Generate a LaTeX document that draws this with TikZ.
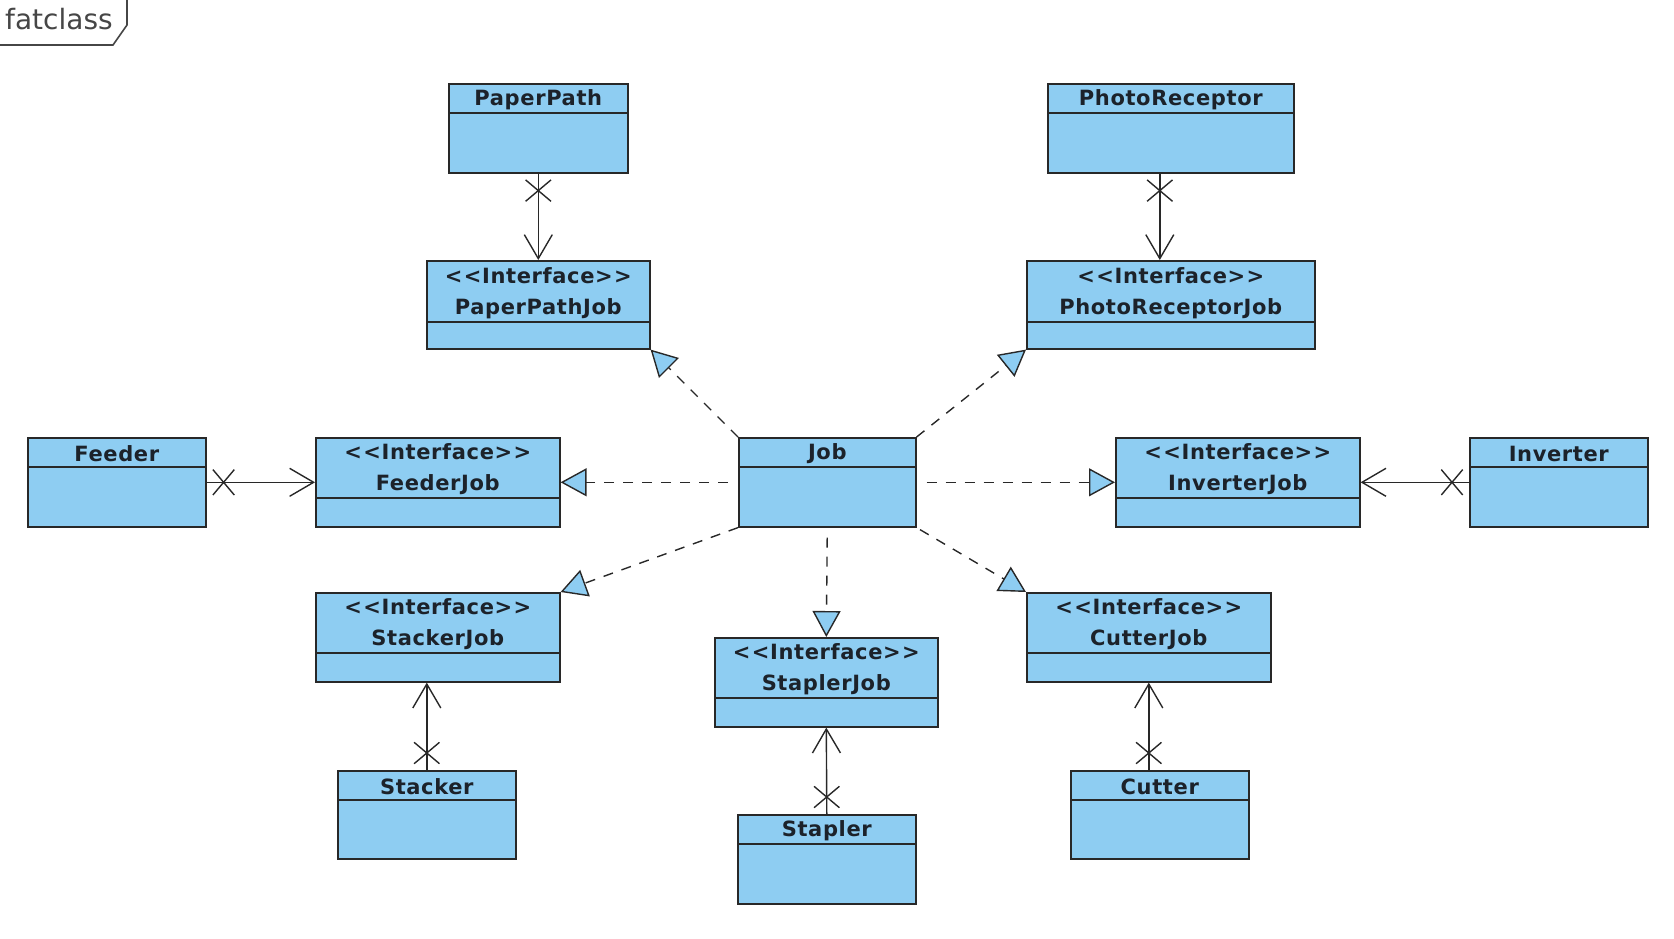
\documentclass[tikz,border=0pt]{standalone}
\usepackage{fontspec}
\setmainfont{DejaVu Sans}
\newfontfamily\lblfont{DejaVu Sans}[LetterSpace=3]
\usetikzlibrary{arrows.meta,calc,shapes.misc}
\definecolor{clsfill}{RGB}{142,205,242}
\definecolor{clsline}{RGB}{40,40,40}
\definecolor{txt}{RGB}{28,34,42}
\definecolor{frm}{RGB}{70,70,70}
\newcommand\umlbox[7]{%
  \node[box, minimum width={#4-#2}, minimum height={#5-#3}, anchor=north west] (#1) at (#2,#3) {};
  \draw[divider] ($(#1.north west)+(0,#6)$) -- ($(#1.north east)+(0,#6)$);
  \node[lbl] (#1-t) at ($(#1.north)+(0,#6/2+2)$) {#7};
}
\newcommand\iface{<\kern1.5pt<Interface>\kern1.5pt>}
\begin{document}
\begin{tikzpicture}[x=1pt,y=-1pt,
  box/.style={draw=clsline, fill=clsfill, line width=1.6pt, inner sep=0pt, rectangle},
  divider/.style={draw=clsline, line width=1.6pt},
  lbl/.style={font=\lblfont\fontsize{21}{31}\selectfont\bfseries, text=txt, align=center, inner sep=0pt},
  assoc/.style={draw=clsline, line width=1.4pt, -{Straight Barb[length=24pt,width=28pt,line width=1.4pt]}},
  real/.style={draw=clsline, line width=1.4pt, dash pattern=on 10pt off 9pt, -{Triangle[length=26pt,width=28pt,fill=clsfill,line width=1.4pt]}},
  xv/.style={cross out, draw=clsline, line width=1.4pt, minimum width=24pt, minimum height=20pt, inner sep=0pt},
  xh/.style={cross out, draw=clsline, line width=1.4pt, minimum width=20pt, minimum height=24pt, inner sep=0pt},
]
\useasboundingbox (0,0) rectangle (1674,938);

% frame tab
\draw[frm, line width=1.6pt] (-2,45) -- (113,45) -- (127,25) -- (127,-2);
\node[font=\fontsize{28}{32}\selectfont, text=frm, anchor=base west, inner sep=0pt] (title) at (5,29) {fatclass};

% classes
\umlbox{pp}{448}{83}{627}{172}{30}{PaperPath}
\umlbox{ppj}{426}{260}{649}{348}{62}{\iface\\PaperPathJob}
\umlbox{pr}{1047}{83}{1293}{172}{30}{PhotoReceptor}
\umlbox{prj}{1026}{260}{1314}{348}{62}{\iface\\PhotoReceptorJob}
\umlbox{feeder}{27}{437}{205}{526}{30}{Feeder}
\umlbox{fj}{315}{437}{559}{526}{61}{\iface\\FeederJob}
\umlbox{job}{738}{437}{915}{526}{30}{Job}
\umlbox{ij}{1115}{437}{1359}{526}{61}{\iface\\InverterJob}
\umlbox{inv}{1469}{437}{1647}{526}{30}{Inverter}
\umlbox{sj}{315}{592}{559}{681}{61}{\iface\\StackerJob}
\umlbox{stacker}{337}{770}{515}{858}{30}{Stacker}
\umlbox{stj}{714}{637}{937}{726}{61}{\iface\\StaplerJob}
\umlbox{stapler}{737}{814}{915}{903}{30}{Stapler}
\umlbox{cj}{1026}{592}{1270}{681}{61}{\iface\\CutterJob}
\umlbox{cutter}{1070}{770}{1248}{858}{30}{Cutter}

% associations
\draw[assoc] (pp.south) -- (ppj.north);
\node[xv] (x1) at ($(pp.south)!17pt!(ppj.north)$) {};
\coordinate (prs) at ($(pr.south)+(-11,0)$);
\coordinate (prjn) at ($(prj.north)+(-11,0)$);
\draw[assoc] (prs) -- (prjn);
\node[xv] (x2) at ($(prs)!17pt!(prjn)$) {};
\draw[assoc] (feeder.east) -- (fj.west);
\node[xh] (x3) at ($(feeder.east)!17pt!(fj.west)$) {};
\draw[assoc] (inv.west) -- (ij.east);
\node[xh] (x4) at ($(inv.west)!17pt!(ij.east)$) {};
\draw[assoc] (stacker.north) -- (stacker.north |- sj.south);
\node[xv] (x5) at ($(stacker.north)!17pt!(stacker.north |- sj.south)$) {};
\draw[assoc] (stapler.north) -- (stj.south);
\node[xv] (x6) at ($(stapler.north)!17pt!(stj.south)$) {};
\coordinate (cutn) at (cj.south |- cutter.north);
\draw[assoc] (cutn) -- (cj.south);
\node[xv] (x7) at ($(cutn)!17pt!(cj.south)$) {};

% realizations
\draw[real] (job.north west) -- (ppj.south east);
\draw[real] (job.north east) -- (prj.south west);
\draw[real, shorten <=10pt] (job.west) -- (fj.east);
\draw[real, shorten <=10pt] (job.east) -- (ij.west);
\draw[real] (job.south west) -- (sj.north east);
\draw[real, shorten <=10pt] (job.south) -- (stj.north);
\draw[real, shorten <=4pt] (job.south east) -- (cj.north west);
\end{tikzpicture}
\end{document}
